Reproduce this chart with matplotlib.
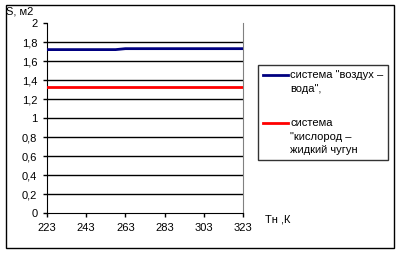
import matplotlib.pyplot as plt
from matplotlib.patches import Rectangle
from matplotlib.legend_handler import HandlerLine2D

plt.rcParams['font.family'] = ['Liberation Sans', 'DejaVu Sans']
plt.rcParams['font.size'] = 8

# data
temps = [223, 243, 258, 263, 283, 303, 323]
air_water = [1.72, 1.72, 1.72, 1.73, 1.73, 1.73, 1.73]
oxygen_iron = [1.33, 1.33, 1.33, 1.33, 1.33, 1.33, 1.33]
xticks = [223, 243, 263, 283, 303, 323]
yticks = [0, 0.2, 0.4, 0.6, 0.8, 1, 1.2, 1.4, 1.6, 1.8, 2]
ylabels = ['0', '0,2', '0,4', '0,6', '0,8', '1', '1,2', '1,4', '1,6', '1,8', '2']


class TopLine(HandlerLine2D):
    # put the legend line next to the first text line
    def __init__(self, shift, **kw):
        super().__init__(**kw)
        self.shift = shift

    def create_artists(self, legend, orig_handle, xdescent, ydescent,
                       width, height, fontsize, trans):
        arts = super().create_artists(legend, orig_handle, xdescent, ydescent,
                                      width, height, fontsize, trans)
        for a in arts:
            a.set_ydata([y + self.shift for y in a.get_ydata()])
        return arts


fig = plt.figure(figsize=(4, 2.54), dpi=100)
ax = fig.add_axes([0.1175, 0.1614, 0.49, 0.748])

for y in yticks[1:-1]:
    ax.axhline(y, color='black', lw=1, zorder=1)

l1, = ax.plot(temps, air_water, color='#000080', lw=2, zorder=3,
              label='система "воздух –\nвода",')
l2, = ax.plot(temps, oxygen_iron, color='#ff0000', lw=2, zorder=3,
              label='система\n"кислород –\nжидкий чугун')

ax.set_xlim(223, 323)
ax.set_ylim(0, 2)
ax.set_xticks(xticks)
ax.set_yticks(yticks)
ax.set_yticklabels(ylabels)

ax.spines['top'].set_visible(False)
ax.spines['right'].set_color('#808080')
ax.spines['left'].set_color('black')
ax.spines['bottom'].set_color('black')
ax.tick_params(direction='out', length=3, width=1, pad=4, colors='black')

fig.text(0.015, 0.955, 'S, м2', ha='left', va='center')
fig.text(0.662, 0.134, 'Тн ,К', ha='left', va='center')

leg = fig.legend(loc='upper left', bbox_to_anchor=(0.646, 0.744),
                 frameon=True, fancybox=False, edgecolor='black',
                 handlelength=2.2, handletextpad=0.2, labelspacing=2.2,
                 borderpad=0.45, borderaxespad=0,
                 handler_map={l1: TopLine(5), l2: TopLine(10)})
leg.get_frame().set_linewidth(1)
for t in leg.get_texts():
    t.set_linespacing(1.45)

fig.patches.append(Rectangle((0.014, 0.024), 0.972, 0.958, transform=fig.transFigure,
                             fill=False, edgecolor='black', lw=1))

fig.savefig('out.png', dpi=100)
